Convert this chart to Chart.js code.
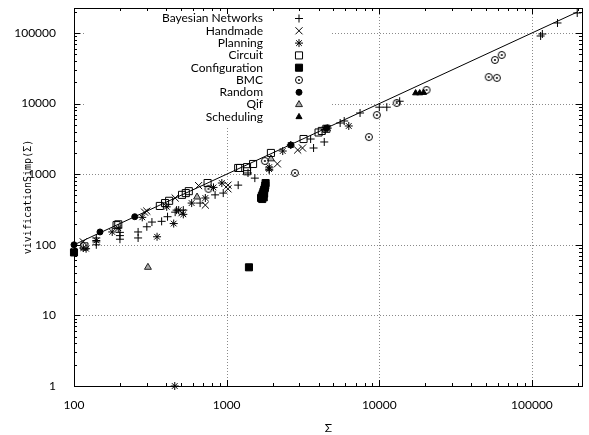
<!DOCTYPE html>
<html>
<head>
<meta charset="utf-8">
<script src="https://cdn.jsdelivr.net/npm/chart.js@4/dist/chart.umd.min.js"></script>
<style>
  html, body { margin: 0; padding: 0; background: #fff; }
</style>
</head>
<body>
<canvas id="chart" width="589" height="435"></canvas>
<script>
// --- data (x = Σ, y = vivificationSimp(Σ)) ---
const seriesNames = ['Bayesian Networks', 'Handmade', 'Planning', 'Circuit', 'Configuration', 'BMC', 'Random', 'Qif', 'Scheduling'];

const bayesian = [[140,125],[140,110],[140,100],[200,150],[200,135],[200,120],[263,152],[263,125],[300,180],[324,210],
  [375,215],[410,250],[460,290],[470,310],[520,310],[670,390],[840,510],[950,540],[1190,700],[1380,1040],[1530,880],
  [1900,1140],[3550,3150],[3710,2350],[4360,2860],[5540,5310],[5890,5670],[7480,7360],[10000,8900],[11200,8900],
  [13600,10800],[114000,90700],[117000,96800],[147000,138700],[198000,192000]];
const handmade = [[115,110],[290,290],[300,300],[460,460],[510,285],[655,690],[725,365],[1020,700],[1020,620],
  [2150,1400],[2920,2200],[3140,2350]];
const planning = [[100,82],[115,90],[120,88],[140,115],[178,152],[195,172],[280,245],[350,130],[405,345],[450,200],
  [485,310],[520,270],[590,390],[725,460],[820,650],[930,750],[1900,1260],[1900,1180],[2330,2130],[2630,2590],
  [4400,4300],[4600,4500],[6310,4820],[457,1]];
const circuit = [[117,95],[190,190],[195,195],[365,355],[395,390],[420,420],[510,510],[540,540],[565,575],[750,750],
  [1190,1225],[1225,1225],[1360,1260],[1360,1100],[1490,1395],[1950,2000],[3190,3150],[4000,3900],[4200,4100],[4500,4400]];
const configuration = [[100,78],[1400,48],[1800,750],[1790,690],[1780,640],[1760,600],[1740,560],[1720,520],[1700,490],
  [1680,460],[1710,445],[1750,470],[1760,530]];
const bmc = [[760,620],[1780,1540],[2800,1040],[8550,3360],[9640,6890],[13000,10200],[20400,15600],[57200,41500],
  [63400,48800],[52100,23800],[58900,23100]];
const random = [[100,100],[148,152],[250,250],[2630,2590],[4500,4500]];
const qif = [[305,48],[640,475],[1950,1650]];
const scheduling = [[17300,14100],[18400,14100],[19500,14300]];

const diagonal = [100, 200000];   // y = x reference line

const xTickValues = [100, 1000, 10000, 100000];
const xTickLabels = ['100', '1000', '10000', '100000'];
const yTickValues = [1, 10, 100, 1000, 10000, 100000];
const yTickLabels = ['1', '10', '100', '1000', '10000', '100000'];

// --- markers ---
function dotCircle(r) {
    const cv = document.createElement('canvas');
    const s = Math.ceil(r * 2 + 3);
    cv.width = s; cv.height = s;
    const g = cv.getContext('2d');
    g.strokeStyle = '#000';
    g.lineWidth = 1;
    g.beginPath(); g.arc(s / 2, s / 2, r, 0, Math.PI * 2); g.stroke();
    g.fillStyle = '#000';
    g.beginPath(); g.arc(s / 2, s / 2, 1, 0, Math.PI * 2); g.fill();
    return cv;
}
const bmcMark = dotCircle(3.5);

const styles = [
    { pointStyle: 'cross',    radius: 4,   fill: '#000', stroke: '#000' },
    { pointStyle: 'crossRot', radius: 5,   fill: '#000', stroke: '#000' },
    { pointStyle: 'star',     radius: 4,   fill: '#000', stroke: '#000' },
    { pointStyle: 'rect',     radius: 5,   fill: 'rgba(0,0,0,0)', stroke: '#000' },
    { pointStyle: 'rect',     radius: 5,   fill: '#000', stroke: '#000' },
    { pointStyle: bmcMark,    radius: 4,   fill: '#000', stroke: '#000' },
    { pointStyle: 'circle',   radius: 3,   fill: '#000', stroke: '#000' },
    { pointStyle: 'triangle', radius: 4,   fill: '#aaa', stroke: '#222' },
    { pointStyle: 'triangle', radius: 3.5, fill: '#000', stroke: '#000' }
];
const seriesData = [bayesian, handmade, planning, circuit, configuration, bmc, random, qif, scheduling];

const datasets = seriesData.map((arr, i) => ({
    type: 'scatter',
    label: seriesNames[i],
    data: arr.map(p => ({ x: p[0], y: p[1] })),
    pointStyle: styles[i].pointStyle,
    pointRadius: styles[i].radius,
    pointHoverRadius: styles[i].radius,
    backgroundColor: styles[i].fill,
    borderColor: styles[i].stroke,
    borderWidth: 1,
    clip: false
}));
datasets.push({
    type: 'line',
    label: 'x',
    data: diagonal.map(v => ({ x: v, y: v })),
    borderColor: '#000',
    borderWidth: 1,
    pointRadius: 0,
    fill: false
});

function logTicks(scale) {
    const out = [];
    const lo = Math.floor(Math.log10(scale.min));
    const hi = Math.ceil(Math.log10(scale.max));
    for (let e = lo; e <= hi; e++) {
        for (let m = 1; m < 10; m++) {
            const v = m * Math.pow(10, e);
            if (v >= scale.min * 0.999 && v <= scale.max * 1.001) out.push({ value: v });
        }
    }
    scale.ticks = out;
}
function isDecade(v) {
    const l = Math.log10(v);
    return Math.abs(l - Math.round(l)) < 1e-9;
}

const sansFont = 'Lato';

// grid, frame, inward tics and the key, drawn the way gnuplot does
const framePlugin = {
    id: 'frame',
    beforeDatasetsDraw(chart) {
        const { ctx, chartArea: a, scales } = chart;
        const xs = scales.x, ys = scales.y;
        ctx.save();
        // dotted grid at decades
        ctx.strokeStyle = '#8a8a8a';
        ctx.lineWidth = 1;
        ctx.setLineDash([1, 2]);
        xTickValues.forEach(v => {
            const px = Math.round(xs.getPixelForValue(v)) + 0.5;
            ctx.beginPath(); ctx.moveTo(px, a.top); ctx.lineTo(px, a.bottom); ctx.stroke();
        });
        yTickValues.forEach(v => {
            const py = Math.round(ys.getPixelForValue(v)) + 0.5;
            ctx.beginPath(); ctx.moveTo(a.left, py); ctx.lineTo(a.right, py); ctx.stroke();
        });
        ctx.setLineDash([]);
        // key box hides the grid
        ctx.fillStyle = '#fff';
        ctx.fillRect(84, 9, 248, 117);
        // frame
        ctx.strokeStyle = '#000';
        ctx.lineWidth = 1;
        ctx.strokeRect(Math.round(a.left) + 0.5, Math.round(a.top) + 0.5,
            Math.round(a.right - a.left) - 1, Math.round(a.bottom - a.top));
        // tics on all four sides
        xs.ticks.forEach(t => {
            const px = Math.round(xs.getPixelForValue(t.value)) + 0.5;
            const len = isDecade(t.value) ? 6 : 3;
            ctx.beginPath();
            ctx.moveTo(px, a.bottom); ctx.lineTo(px, a.bottom - len);
            ctx.moveTo(px, a.top); ctx.lineTo(px, a.top + len);
            ctx.stroke();
        });
        ys.ticks.forEach(t => {
            const py = Math.round(ys.getPixelForValue(t.value)) + 0.5;
            const len = isDecade(t.value) ? 6 : 3;
            ctx.beginPath();
            ctx.moveTo(a.left, py); ctx.lineTo(a.left + len, py);
            ctx.moveTo(a.right - 1, py); ctx.lineTo(a.right - 1 - len, py);
            ctx.stroke();
        });
        // key entries
        ctx.font = '12px ' + sansFont;
        ctx.textAlign = 'right';
        ctx.textBaseline = 'middle';
        seriesNames.forEach((name, i) => {
            const y = 18.5 + i * 12.3;
            ctx.fillStyle = '#000';
            ctx.fillText(name, 263, y);
            ctx.fillStyle = styles[i].fill;
            ctx.strokeStyle = styles[i].stroke;
            ctx.lineWidth = 1;
            Chart.helpers.drawPoint(ctx, {
                pointStyle: styles[i].pointStyle,
                radius: styles[i].radius,
                rotation: 0,
                borderWidth: 1
            }, 299, y);
        });
        ctx.restore();
    }
};

new Chart(document.getElementById('chart'), {
    data: { datasets: datasets },
    plugins: [framePlugin],
    options: {
        responsive: false,
        animation: false,
        layout: { padding: { top: 8, right: 0, left: 0, bottom: 0 } },
        plugins: {
            legend: { display: false },
            tooltip: { enabled: false }
        },
        scales: {
            x: {
                type: 'logarithmic',
                position: 'bottom',
                min: 100,
                max: 216000,
                grid: { display: false },
                border: { display: false },
                afterBuildTicks: logTicks,
                afterFit: s => { s.height = 49; s.paddingLeft = 0; s.paddingRight = 0; },
                ticks: {
                    autoSkip: false,
                    maxRotation: 0,
                    padding: 4,
                    color: '#000',
                    font: { family: sansFont, size: 12 },
                    callback: v => {
                        const i = xTickValues.findIndex(t => Math.abs(t - v) < 1e-6);
                        return i >= 0 ? xTickLabels[i] : '';
                    }
                },
                title: {
                    display: true,
                    text: 'Σ',
                    color: '#000',
                    font: { family: sansFont, size: 12 },
                    padding: { top: 1, bottom: 0 }
                }
            },
            y: {
                type: 'logarithmic',
                position: 'left',
                min: 1,
                max: 226000,
                grid: { display: false },
                border: { display: false },
                afterBuildTicks: logTicks,
                afterFit: s => { s.width = 74; s.paddingTop = 0; s.paddingBottom = 0; },
                ticks: {
                    autoSkip: false,
                    padding: 10,
                    color: '#000',
                    font: { family: sansFont, size: 12 },
                    callback: v => {
                        const i = yTickValues.findIndex(t => Math.abs(t - v) < 1e-6);
                        return i >= 0 ? yTickLabels[i] : '';
                    }
                },
                title: {
                    display: true,
                    text: 'vivificationSimp(Σ)',
                    color: '#000',
                    font: { family: 'DejaVu Sans Mono', size: 10 },
                    padding: { top: 22, bottom: 0 }
                }
            }
        }
    }
});
</script>
</body>
</html>
